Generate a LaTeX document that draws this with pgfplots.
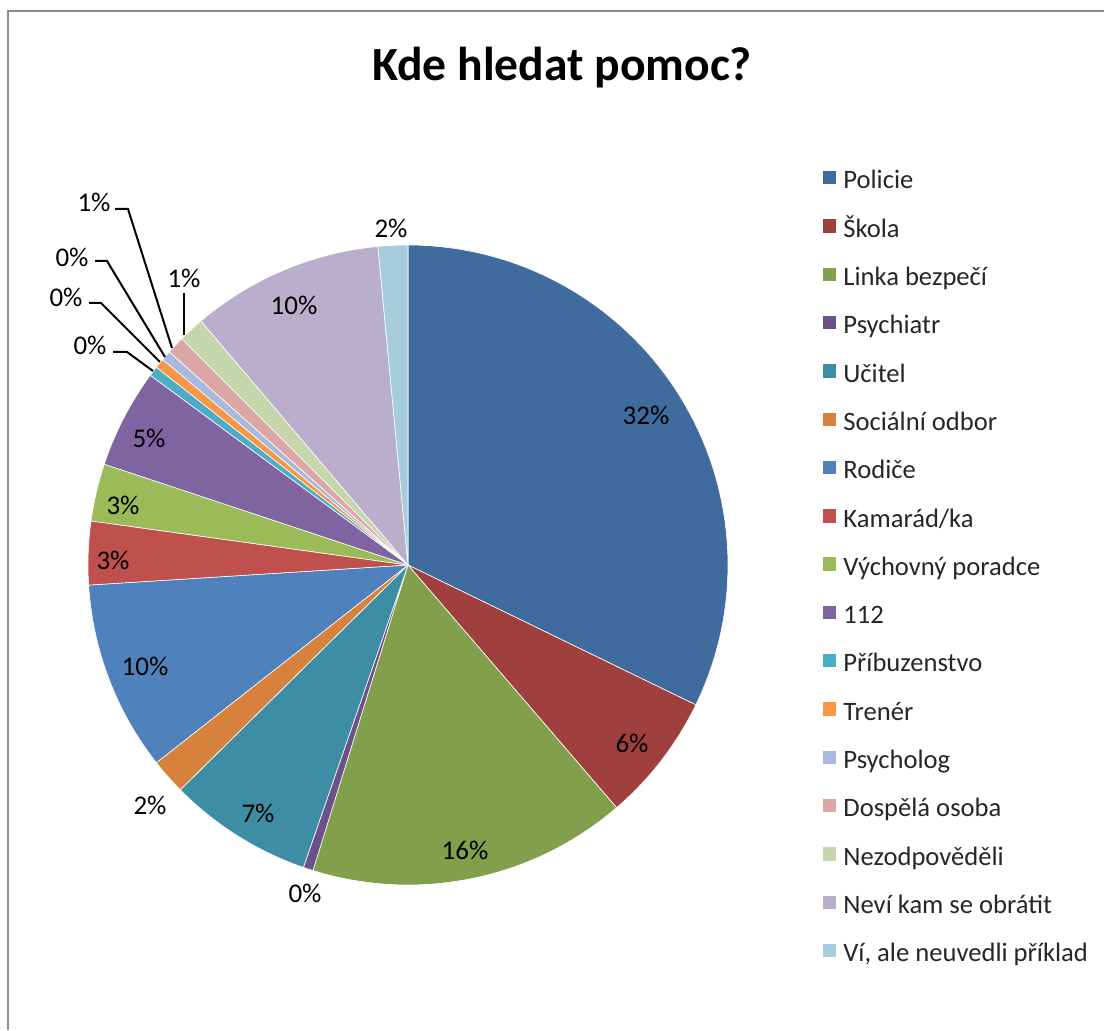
\documentclass[border=0pt]{standalone}
\usepackage{pgfplots}
\usepackage{pgfplotstable}
\pgfplotsset{compat=1.18}
\usepackage{fontspec}
\setmainfont{Carlito}

\definecolor{c1}{HTML}{406B9F}
\definecolor{c2}{HTML}{A0403E}
\definecolor{c3}{HTML}{82A04C}
\definecolor{c4}{HTML}{6A5289}
\definecolor{c5}{HTML}{3D8EA4}
\definecolor{c6}{HTML}{D6813C}
\definecolor{c7}{HTML}{4F81BD}
\definecolor{c8}{HTML}{C0504D}
\definecolor{c9}{HTML}{9BBB59}
\definecolor{c10}{HTML}{8064A2}
\definecolor{c11}{HTML}{4BACC6}
\definecolor{c12}{HTML}{F79646}
\definecolor{c13}{HTML}{A7B9DC}
\definecolor{c14}{HTML}{DCA6A5}
\definecolor{c15}{HTML}{C6D6AC}
\definecolor{c16}{HTML}{B9AECC}
\definecolor{c17}{HTML}{A5CDDB}

% share of answers in percent, clockwise from 12 o'clock
\pgfplotstableread[col sep=semicolon]{
name;value;col
Policie;32.2;c1
Škola;6.5;c2
Linka bezpečí;16.1;c3
Psychiatr;0.5;c4
Učitel;7.3;c5
Sociální odbor;1.8;c6
Rodiče;9.6;c7
Kamarád/ka;3.2;c8
Výchovný poradce;2.9;c9
112;5.0;c10
Příbuzenstvo;0.5;c11
Trenér;0.5;c12
Psycholog;0.5;c13
Dospělá osoba;0.9;c14
Nezodpověděli;1.3;c15
Neví kam se obrátit;9.7;c16
Ví, ale neuvedli příklad;1.5;c17
}\piedata

\begin{document}
\begin{tikzpicture}
\begin{axis}[
    hide axis,
    scale only axis,
    width=552pt, height=515pt,
    xmin=0, xmax=1104, ymin=0, ymax=1030,
    clip=false,
    legend image code/.code={\fill[#1] (0pt,-0.9pt) rectangle (7.2pt,6.3pt);},
    legend style={at={(axis cs:822,860)}, anchor=north west, draw=none, fill=none,
        inner sep=0pt, outer sep=0pt,
        font=\fontsize{13.3}{15}\selectfont, text=black!85,
        row sep=11.7pt, column sep=3.2pt,
        nodes={inner sep=0pt, text height=9pt, text depth=3pt}},
    legend cell align=left,
    ]
\def\start{90}
\pgfplotsforeachungrouped \i in {0,...,16}{%
  \pgfplotstablegetelem{\i}{value}\of\piedata \let\v\pgfplotsretval
  \pgfplotstablegetelem{\i}{col}\of\piedata \let\c\pgfplotsretval
  \pgfplotstablegetelem{\i}{name}\of\piedata \let\n\pgfplotsretval
  \pgfmathsetmacro{\stop}{\start-3.6*\v}%
  \edef\temp{\noexpand\addplot[fill=\c, draw=white, line width=0.3pt,
      domain=\stop:\start, samples=60]
      ({408+320*cos(x)},{465+320*sin(x)}) -- (axis cs:408,465) -- cycle;
    \noexpand\addlegendentry{\n}}%
  \temp
  \global\let\start\stop
}

\coordinate (ll) at (axis cs:0,0);
\coordinate (ur) at (axis cs:1104,1030);
% frame
\draw[black!45, line width=1pt] (axis cs:8,0) -- (axis cs:8,1019) -- (axis cs:1104,1019);
% title
\node[anchor=base, font=\bfseries\fontsize{23.8}{28}\selectfont] at (axis cs:562,949) {Kde hledat pomoc?};

% percent labels
\begin{scope}[every node/.style={font=\fontsize{13.5}{15}\selectfont, text=black, inner sep=0pt}]
\node at (axis cs:646,615) {32\%};
\node at (axis cs:632,287) {6\%};
\node at (axis cs:465,180) {16\%};
\node at (axis cs:305,137) {0\%};
\node at (axis cs:258,217) {7\%};
\node at (axis cs:150,225) {2\%};
\node at (axis cs:145,364) {10\%};
\node at (axis cs:113,470) {3\%};
\node at (axis cs:123,525) {3\%};
\node at (axis cs:149,592) {5\%};
\node at (axis cs:90,685) {0\%};
\node at (axis cs:66,733) {0\%};
\node at (axis cs:72,773) {0\%};
\node at (axis cs:94,828) {1\%};
\node at (axis cs:184,752) {1\%};
\node at (axis cs:294,725) {10\%};
\node at (axis cs:391,802) {2\%};
\end{scope}

% leader lines
\begin{scope}[black, line width=1pt]
\draw (axis cs:115,821) -- (axis cs:128,821) -- (axis cs:172,682);
\draw (axis cs:95,769) -- (axis cs:107,769) -- (axis cs:165,673);
\draw (axis cs:89,727) -- (axis cs:101,727) -- (axis cs:160,668);
\draw (axis cs:113,678) -- (axis cs:127,678) -- (axis cs:153,659);
\draw (axis cs:184,737) -- (axis cs:184,695);
\end{scope}
\end{axis}
\pgfresetboundingbox
\useasboundingbox (ll) rectangle (ur);
\end{tikzpicture}
\end{document}
